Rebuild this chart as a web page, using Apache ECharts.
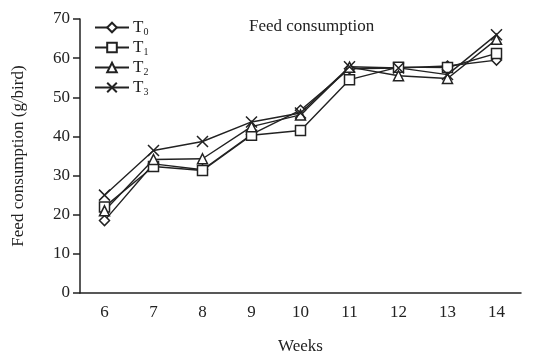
<!DOCTYPE html>
<html><head><meta charset="utf-8">
<script src="https://cdn.jsdelivr.net/npm/echarts@6/dist/echarts.min.js"></script>
<style>html,body{margin:0;padding:0;background:#fff}#c{width:543px;height:360px}</style>
</head><body><div id="c"></div>
<script>
const weeks = ['6','7','8','9','10','11','12','13','14'];
const T0 = [18.5, 33.0, 31.5, 40.5, 46.7, 57.3, 57.5, 58.0, 59.5];
const T1 = [22.0, 32.3, 31.3, 40.3, 41.5, 54.5, 57.7, 57.6, 61.2];
const T2 = [21.0, 34.1, 34.3, 42.5, 45.5, 57.7, 55.5, 54.8, 64.8];
const T3 = [25.0, 36.4, 38.7, 43.7, 46.0, 57.8, 57.5, 55.8, 66.0];
const names = ['T0','T1','T2','T3'];
const yTicks = [0,10,20,30,40,50,60,70];

const font = 'Liberation Serif';
const ink = '#222';
const symbols = ['diamond','rect','triangle','path://M0,0L10,10M10,0L0,10'];
const sizes = [10, 10, 10, 11];
const data = [T0,T1,T2,T3];

const chart = echarts.init(document.getElementById('c'));
chart.setOption({
  animation:false,
  title:{text:'Feed consumption',left:244,top:13,textStyle:{fontFamily:font,fontSize:17,fontWeight:'normal',color:ink}},
  legend:{
    orient:'vertical',left:89,top:14,itemGap:2,itemWidth:34,itemHeight:12,
    data:names,
    formatter:n=>'{a|T}{b|'+n.slice(1)+'}',
    textStyle:{fontFamily:font,color:ink,padding:[0,0,0,-1],rich:{a:{fontFamily:font,fontSize:17,color:ink,lineHeight:18},b:{fontFamily:font,fontSize:10,color:ink,padding:[9,0,0,0]}}}
  },
  grid:{left:80,right:22,top:19,bottom:60},
  xAxis:{type:'category',data:weeks,name:'Weeks',nameLocation:'middle',nameGap:45,
    nameTextStyle:{fontFamily:font,fontSize:17,color:ink},
    axisLine:{lineStyle:{color:ink,width:1.5}},
    axisTick:{length:7,lineStyle:{color:ink,width:1.5}},
    axisLabel:{fontFamily:font,fontSize:17,color:ink,margin:11}},
  yAxis:{type:'value',min:0,max:70,interval:10,
    name:'Feed consumption (g/bird)',nameLocation:'middle',nameGap:53,
    nameTextStyle:{fontFamily:font,fontSize:17,color:ink},
    axisLine:{show:true,lineStyle:{color:ink,width:1.5}},
    axisTick:{show:true,length:7,lineStyle:{color:ink,width:1.5}},
    splitLine:{show:false},
    axisLabel:{fontFamily:font,fontSize:17,color:ink,margin:10,formatter:v=>yTicks.includes(v)?String(v):''}},
  series:names.map((n,i)=>({
    name:n,type:'line',data:data[i],symbol:symbols[i],symbolSize:sizes[i],
    showAllSymbol:true,
    lineStyle:{color:ink,width:1.4},
    itemStyle:{color:'#fff',borderColor:ink,borderWidth:1.5}
  }))
});
</script></body></html>
